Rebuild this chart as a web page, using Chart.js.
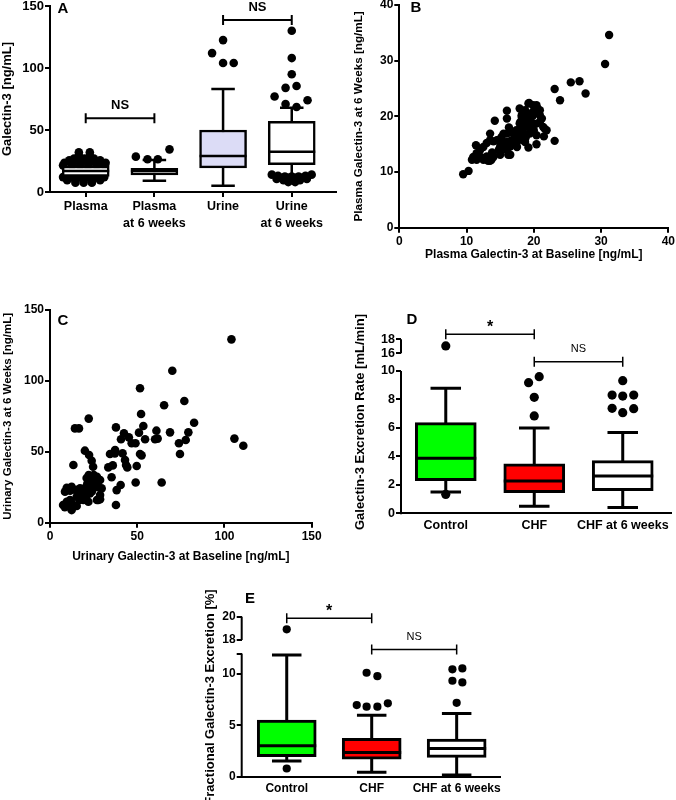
<!DOCTYPE html>
<html>
<head>
<meta charset="utf-8">
<title>Galectin-3</title>
<script src="https://cdn.jsdelivr.net/npm/chart.js@4.4.1/dist/chart.umd.min.js"></script>
<style>
  body { margin: 0; background: #fff; }
  #page { position: relative; width: 676px; height: 800px; overflow: hidden; background: #fff; }
  #page canvas { position: absolute; }
</style>
</head>
<body>
<div id="page">
  <canvas id="chartA" width="340" height="245" style="left:0;top:0"></canvas>
  <canvas id="chartB" width="336" height="300" style="left:340px;top:0"></canvas>
  <canvas id="chartC" width="340" height="265" style="left:0;top:300px"></canvas>
  <canvas id="chartD" width="336" height="245" style="left:340px;top:300px"></canvas>
  <canvas id="chartE" width="360" height="230" style="left:160px;top:570px"></canvas>
</div>
<script>
// ---------- Panel A: box plots ----------
const aGroups = [['Plasma'], ['Plasma', 'at 6 weeks'], ['Urine'], ['Urine', 'at 6 weeks']];
const aQ1 = [12.5, 13.7, 19.4, 22];
const aMedian = [17, 17, 29, 32.5];
const aQ3 = [21, 19, 50, 57];
const aLow = [11, 9, 5, 14];
const aHigh = [23, 25.8, 83, 68];
// outliers: [group, sideways shift, value]
const aOutliers = [
  [1, -0.10, 32], [1, 0.06, 32], [1, -0.10, 29.5], [1, 0.06, 29.5], [1, -0.17, 27], [1, -0.02, 27], [1, 0.12, 27],
  [1, -0.24, 25.5], [1, 0.21, 25.5], [1, -0.08, 25.5], [1, 0.05, 25.5],
  [1, -0.31, 23.5], [1, -0.19, 23.5], [1, -0.07, 23.5], [1, 0.05, 23.5], [1, 0.17, 23.5], [1, 0.29, 23.5],
  [1, -0.33, 21.5], [1, -0.2, 21.5], [1, -0.08, 21.5], [1, 0.04, 21.5], [1, 0.16, 21.5], [1, 0.28, 21.5],
  [1, -0.33, 12], [1, -0.21, 12], [1, -0.09, 12], [1, 0.03, 12], [1, 0.15, 12], [1, 0.27, 12],
  [1, -0.27, 9.5], [1, -0.15, 9.5], [1, -0.03, 9.5], [1, 0.09, 9.5], [1, 0.21, 9.5],
  [1, -0.15, 7.5], [1, -0.03, 7.5], [1, 0.09, 7.5],
  [2, -0.27, 28.5], [2, -0.1, 26.4], [2, 0.05, 26.4], [2, 0.22, 34.4],
  [3, -0.16, 112], [3, 0, 122.5], [3, 0, 104], [3, 0.155, 104],
  [4, 0, 130], [4, 0, 108], [4, 0, 95], [4, -0.09, 84], [4, 0.07, 85.5], [4, -0.25, 77], [4, 0.23, 74],
  [4, -0.09, 71], [4, 0.07, 68.5],
  [4, -0.29, 14], [4, -0.2, 13], [4, -0.1, 12.5], [4, 0, 12.5], [4, 0.1, 12.5], [4, 0.2, 13], [4, 0.29, 14],
  [4, -0.22, 10.5], [4, -0.12, 9.5], [4, -0.04, 9], [4, 0.04, 9], [4, 0.12, 9.5], [4, 0.22, 10.5],
  [4, -0.05, 8], [4, 0.05, 8]
];
const aSignif = [
  { from: 1, to: 2, level: 59.4, text: 'NS' },
  { from: 3, to: 4, level: 138.7, text: 'NS' }
];

// ---------- Panel B: plasma baseline vs 6 weeks ----------
const bPoints = [
  [31.2, 34.6], [30.6, 29.4], [25.5, 26.1], [26.8, 26.3], [27.7, 24.1], [23.1, 24.9], [23.9, 22.9], [23.1, 15.6],
  [9.5, 9.6], [10.3, 10.2],
  [19.3, 22.4], [19.9, 22.0], [20.5, 21.5], [17.9, 21.4], [16.0, 21.0], [14.2, 19.2], [16.0, 19.6],
  [18.2, 19.9], [18.9, 20.5], [19.9, 20.8], [20.9, 20.2], [20.9, 19.0], [21.4, 18.1], [21.9, 17.5],
  [17.9, 18.7], [18.7, 19.0], [19.2, 18.1], [19.9, 18.7], [17.4, 17.5], [18.4, 17.2], [19.4, 16.9], [20.4, 16.6],
  [21.6, 17.8], [21.5, 16.4], [20.4, 15.0], [19.2, 14.4],
  [16.7, 17.2], [16.0, 16.9], [15.2, 16.3], [14.5, 15.7], [13.5, 16.9], [13.5, 15.7], [13.0, 15.2], [12.5, 14.5],
  [12.0, 13.9], [11.5, 13.4], [11.0, 12.7], [10.8, 12.2], [11.5, 12.2], [12.5, 12.2], [13.5, 12.0], [14.0, 12.7],
  [15.0, 13.4], [16.0, 14.0], [16.5, 13.1], [15.2, 14.8], [16.0, 15.4], [16.7, 15.7], [17.2, 16.3], [17.7, 16.0],
  [18.4, 15.7], [11.4, 14.8], [13.2, 12.0], [13.7, 12.2], [12.9, 12.3], [14.7, 15.7], [15.0, 14.6], [15.5, 16.9],
  [16.2, 13.1], [16.5, 14.6], [16.9, 15.7], [17.9, 16.9], [18.3, 18.1], [18.7, 21.1], [18.9, 19.3], [19.2, 20.5],
  [19.2, 22.3], [19.4, 18.1], [19.9, 20.2], [20.4, 22.0], [20.9, 21.1], [20.4, 18.7], [21.2, 19.6], [18.7, 15.4],
  [18.2, 20.2], [17.4, 15.1], [15.0, 13.1], [13.0, 12.8], [14.0, 15.5], [15.5, 15.0], [17.0, 17.0], [18.0, 19.0],
  [19.5, 19.5], [20.0, 17.5], [17.5, 14.5], [14.8, 14.0], [13.8, 13.5], [12.2, 12.6], [18.8, 16.2], [16.3, 18.0]
];

// ---------- Panel C: urinary baseline vs 6 weeks ----------
const cPoints = [
  [104, 129.3], [70.1, 107.2], [51.6, 94.8], [77, 85.8], [65.4, 82.8], [82.6, 70.5], [79.3, 63.7], [68.8, 63.7],
  [77.8, 58.3], [73.9, 56], [74.5, 48.4], [61, 64.9], [61.7, 59.3], [60.2, 58.8], [53.5, 68.2], [52.2, 76.7],
  [51, 63.5], [54.5, 58.8], [51.6, 48.4], [52.5, 47.5], [49.7, 40], [49, 56], [46.8, 56], [45.2, 60.2],
  [41.6, 48.9], [42.4, 63], [43.6, 40.7], [44.3, 39], [40.7, 58.8], [40.5, 26.6], [38.2, 23], [37.8, 12.5],
  [37.8, 67.2], [37.3, 51.3], [36, 40.4], [34.4, 48.4], [33.4, 39], [35.3, 32], [64, 28.4], [49.1, 28.4],
  [105.7, 59.3], [110.8, 54.3], [22.2, 73.4], [14.3, 66.5], [16.6, 66.5], [13.4, 40.7], [20, 50.8], [22.4, 47.7],
  [23.9, 43.7], [24.7, 39.5], [22.2, 33.6], [22.9, 30.1], [25.1, 33.6], [26.9, 32.4], [28.7, 30.1], [29.6, 24.2],
  [21.4, 27.7], [22, 23.5], [22.9, 20.7], [20.6, 18.3], [17.2, 24.2], [14.9, 23], [11.5, 22.6], [8.6, 21.9],
  [9.6, 24.7], [12.4, 25.4], [15.3, 18.3], [16.9, 16], [12.4, 14.1], [9.6, 14.8], [7.5, 12.5], [8.5, 11],
  [12.4, 8.9], [15.3, 11.8], [26.9, 16], [28.7, 16.5], [22, 14.8], [19.1, 16], [23.5, 27], [21, 31.5],
  [24, 22], [20.5, 22], [18, 19], [10.5, 12.5], [13.4, 11.3], [27.7, 16], [28.7, 19.5], [43, 44.2],
  [37.2, 48.9], [25, 26], [26, 29.5], [27.5, 25], [24, 25.5], [20, 24.5], [18.2, 20.7], [11.5, 16]
];

// ---------- Panel D: excretion rate ----------
const dGroups = ['Control', 'CHF', 'CHF at 6 weeks'];
const dQ1 = [2.3, 1.45, 1.59];
const dMedian = [3.86, 2.27, 2.62];
const dQ3 = [6.37, 3.47, 3.7];
const dLow = [1.5, 0.49, 0.4];
const dHigh = [8.78, 6.0, 5.67];
const dOutliers = [
  [1, 0, 1.33],
  [2, 0, 6.84], [2, 0, 8.15], [2, -0.064, 9.18], [2, 0.056, 9.6],
  [3, 0, 9.32], [3, -0.12, 8.31], [3, 0, 8.24], [3, 0.124, 8.31], [3, -0.12, 7.38], [3, 0, 7.07], [3, 0.124, 7.35]
];
const dOutliersHigh = [[1, 0, 17.05]];
const dTicksLow = [0, 2, 4, 6, 8, 10];
const dTicksHigh = [16, 18];
const dSignif = [
  { from: 1, to: 2, level: 18.71, axis: 'yTop', text: '*' },
  { from: 2, to: 3, level: 10.65, axis: 'y', text: 'NS' }
];

// ---------- Panel E: fractional excretion ----------
const eGroups = ['Control', 'CHF', 'CHF at 6 weeks'];
const eQ1 = [1.95, 1.7, 1.89];
const eMedian = [3.02, 2.37, 2.76];
const eQ3 = [5.52, 3.74, 3.67];
const eLow = [1.53, 0.43, 0.16];
const eHigh = [11.85, 6.0, 6.17];
const eOutliers = [
  [1, 0, 0.8],
  [2, -0.176, 6.98], [2, -0.06, 6.82], [2, 0.067, 6.82], [2, 0.19, 7.15], [2, -0.06, 10.13], [2, 0.067, 9.8],
  [3, 0, 7.2], [3, -0.05, 9.35], [3, 0.067, 9.19], [3, -0.05, 10.46], [3, 0.067, 10.55]
];
const eOutliersHigh = [[1, 0, 18.92]];
const eTicksLow = [0, 5, 10, 12];
const eTicksHigh = [18, 20];
const eSignif = [
  { from: 1, to: 2, level: 19.86, axis: 'yTop', text: '*' },
  { from: 2, to: 3, level: 12.4, axis: 'y', text: 'NS' }
];

// ---------- shared setup ----------
const FONT = "'Liberation Sans', Arial, Helvetica, sans-serif";
Chart.defaults.font.family = FONT;
Chart.defaults.font.size = 12;
Chart.defaults.font.weight = 'bold';
Chart.defaults.color = '#000';
Chart.defaults.animation = false;
Chart.defaults.plugins.legend.display = false;
Chart.defaults.plugins.tooltip.enabled = false;

const fitWidth = w => s => { s.width = w; s.paddingTop = 0; s.paddingBottom = 0; };
const fitHeight = h => s => { s.height = h; s.paddingLeft = 0; s.paddingRight = 0; };
const setTicks = list => s => { s.ticks = list.map(v => ({ value: v })); };
const toPoints = list => list.map(([g, dx, v]) => ({ x: g + dx, y: v }));
const toXY = list => list.map(([x, y]) => ({ x: x, y: y }));
const boxes = (q1, q3) => q1.map((q, i) => ({ x: i + 1, y: [q, q3[i]] }));

const tickGrid = { display: true, drawOnChartArea: false, drawTicks: true, tickLength: 5, color: '#000', lineWidth: 2 };
const noTickGrid = { display: false, drawTicks: false, offset: false };
const axisLine = { display: true, color: '#000', width: 2 };

// whiskers, medians, significance bars, broken axis parts, panel letter
function decor(cfg) {
  return {
    id: 'decor',
    beforeDatasetsDraw(chart) {
      if (!cfg.low) return;
      const ctx = chart.ctx;
      const ys = chart.scales.y;
      const bars = chart.getDatasetMeta(0).data;
      ctx.save();
      ctx.strokeStyle = '#000';
      ctx.lineWidth = cfg.lineWidth;
      bars.forEach((bar, i) => {
        const cap = bar.width / 4;
        const yLo = ys.getPixelForValue(cfg.low[i]);
        const yHi = ys.getPixelForValue(cfg.high[i]);
        ctx.beginPath();
        ctx.moveTo(bar.x, yLo); ctx.lineTo(bar.x, yHi);
        ctx.moveTo(bar.x - cap, yLo); ctx.lineTo(bar.x + cap, yLo);
        ctx.moveTo(bar.x - cap, yHi); ctx.lineTo(bar.x + cap, yHi);
        ctx.stroke();
      });
      ctx.restore();
    },
    afterDatasetDraw(chart, args) {
      if (args.index !== 0 || !cfg.median) return;
      const ctx = chart.ctx;
      const ys = chart.scales.y;
      ctx.save();
      ctx.strokeStyle = '#000';
      ctx.lineWidth = cfg.lineWidth;
      chart.getDatasetMeta(0).data.forEach((bar, i) => {
        const ym = ys.getPixelForValue(cfg.median[i]);
        ctx.beginPath();
        ctx.moveTo(bar.x - bar.width / 2, ym);
        ctx.lineTo(bar.x + bar.width / 2, ym);
        ctx.stroke();
      });
      ctx.restore();
    },
    afterDraw(chart) {
      const ctx = chart.ctx;
      const xs = chart.scales.x;
      const area = chart.chartArea;
      ctx.save();
      ctx.strokeStyle = '#000';
      ctx.fillStyle = '#000';
      (cfg.axisParts || []).forEach(p => {
        const sc = chart.scales[p.axis];
        ctx.lineWidth = 2;
        ctx.beginPath();
        ctx.moveTo(area.left, sc.getPixelForValue(p.from) + (p.from === 0 ? 1 : 0));
        ctx.lineTo(area.left, sc.getPixelForValue(p.to));
        ctx.stroke();
      });
      (cfg.signif || []).forEach(b => {
        const sc = chart.scales[b.axis || 'y'];
        const y = sc.getPixelForValue(b.level);
        const x1 = xs.getPixelForValue(b.from);
        const x2 = xs.getPixelForValue(b.to);
        ctx.lineWidth = cfg.bracketWidth;
        ctx.beginPath();
        ctx.moveTo(x1, y); ctx.lineTo(x2, y);
        ctx.moveTo(x1, y - 5); ctx.lineTo(x1, y + 5);
        ctx.moveTo(x2, y - 5); ctx.lineTo(x2, y + 5);
        ctx.stroke();
        const star = b.text === '*';
        ctx.font = star ? 'bold 16px ' + FONT : cfg.signifFont;
        ctx.textAlign = 'center';
        ctx.textBaseline = 'middle';
        ctx.fillText(b.text, (x1 + x2) / 2, y - (star ? 7 : 13));
      });
      if (cfg.yTitle) {
        ctx.save();
        ctx.translate(cfg.yTitle.x, cfg.yTitle.y);
        ctx.rotate(-Math.PI / 2);
        ctx.font = 'bold 13px ' + FONT;
        ctx.textAlign = 'center';
        ctx.textBaseline = 'middle';
        ctx.fillText(cfg.yTitle.text, 0, 0);
        ctx.restore();
      }
      ctx.font = 'bold 15px ' + FONT;
      ctx.textAlign = 'center';
      ctx.textBaseline = 'middle';
      ctx.fillText(cfg.letter, cfg.letterAt[0], cfg.letterAt[1]);
      ctx.restore();
    }
  };
}

// ---------- A ----------
new Chart(document.getElementById('chartA'), {
  type: 'bar',
  data: {
    datasets: [
      {
        type: 'bar',
        data: boxes(aQ1, aQ3),
        backgroundColor: ['#ffffff', '#ffffff', '#dcdcf6', '#ffffff'],
        borderColor: '#000',
        borderWidth: 2.5,
        borderSkipped: false,
        barThickness: 47
      },
      {
        type: 'scatter',
        data: toPoints(aOutliers),
        pointRadius: 4.3,
        backgroundColor: '#000',
        borderWidth: 0,
        clip: false
      }
    ]
  },
  options: {
    responsive: false,
    layout: { padding: { top: 6, right: 3, left: 0, bottom: 0 } },
    scales: {
      x: {
        type: 'linear', min: 0.48, max: 4.64, offset: false,
        border: axisLine, grid: Object.assign({}, tickGrid, { offset: false }),
        afterBuildTicks: setTicks([1, 2, 3, 4]),
        ticks: {
          padding: 1, autoSkip: false, maxRotation: 0, minRotation: 0,
          font: { size: 12.5, weight: 'bold', lineHeight: 1.38 },
          callback: v => aGroups[v - 1]
        },
        afterFit: fitHeight(53)
      },
      y: {
        type: 'linear', min: 0, max: 150,
        border: axisLine, grid: tickGrid,
        ticks: { stepSize: 50, padding: 1, autoSkip: false, font: { size: 13, weight: 'bold' } },
        title: { display: true, text: 'Galectin-3 [ng/mL]', font: { size: 13, weight: 'bold' }, padding: { top: 0, bottom: 0 } },
        afterFit: fitWidth(50)
      }
    }
  },
  plugins: [decor({
    low: aLow, high: aHigh, median: aMedian, lineWidth: 2.5,
    signif: aSignif, bracketWidth: 2, signifFont: 'bold 13px ' + FONT,
    letter: 'A', letterAt: [63, 9]
  })]
});

// ---------- B ----------
new Chart(document.getElementById('chartB'), {
  type: 'scatter',
  data: {
    datasets: [{
      data: toXY(bPoints),
      pointRadius: 4.2,
      backgroundColor: '#000',
      borderWidth: 0,
      clip: false
    }]
  },
  options: {
    responsive: false,
    layout: { padding: { top: 5, right: 7.7, left: 0, bottom: 0 } },
    scales: {
      x: {
        type: 'linear', min: 0, max: 40,
        border: axisLine, grid: tickGrid,
        ticks: { stepSize: 10, padding: 2, autoSkip: false },
        title: { display: true, text: 'Plasma Galectin-3 at Baseline [ng/mL]', font: { size: 12, weight: 'bold' }, padding: { top: 0, bottom: 37.8 } },
        afterFit: fitHeight(72.3)
      },
      y: {
        type: 'linear', min: 0, max: 40,
        border: axisLine, grid: tickGrid,
        ticks: { stepSize: 10, padding: 1, autoSkip: false },
        title: { display: true, text: 'Plasma Galectin-3 at 6 Weeks [ng/mL]', font: { size: 11.7, weight: 'bold' }, padding: { top: 12, bottom: 0 } },
        afterFit: fitWidth(59.3)
      }
    }
  },
  plugins: [decor({ letter: 'B', letterAt: [76, 8] })]
});

// ---------- C ----------
new Chart(document.getElementById('chartC'), {
  type: 'scatter',
  data: {
    datasets: [{
      data: toXY(cPoints),
      pointRadius: 4.3,
      backgroundColor: '#000',
      borderWidth: 0,
      clip: false
    }]
  },
  options: {
    responsive: false,
    layout: { padding: { top: 10, right: 28.3, left: 0, bottom: 0 } },
    scales: {
      x: {
        type: 'linear', min: 0, max: 150,
        border: axisLine, grid: tickGrid,
        ticks: { stepSize: 50, padding: 2, autoSkip: false },
        title: { display: true, text: 'Urinary Galectin-3 at Baseline [ng/mL]', font: { size: 12, weight: 'bold' }, padding: { top: 0, bottom: 1 } },
        afterFit: fitHeight(42.3)
      },
      y: {
        type: 'linear', min: 0, max: 150,
        border: axisLine, grid: tickGrid,
        ticks: { stepSize: 50, padding: 1, autoSkip: false },
        title: { display: true, text: 'Urinary Galectin-3 at 6 Weeks [ng/mL]', font: { size: 11.5, weight: 'bold' }, padding: { top: 1, bottom: 0 } },
        afterFit: fitWidth(50)
      }
    }
  },
  plugins: [decor({ letter: 'C', letterAt: [63, 21] })]
});

// ---------- D / E share the broken-axis box layout ----------
function brokenBoxChart(id, o) {
  return new Chart(document.getElementById(id), {
    type: 'bar',
    data: {
      datasets: [
        {
          type: 'bar',
          yAxisID: 'y',
          data: boxes(o.q1, o.q3),
          backgroundColor: ['#00ff00', '#ff0000', '#ffffff'],
          borderColor: '#000',
          borderWidth: 3,
          borderSkipped: false,
          barThickness: o.boxWidth
        },
        {
          type: 'scatter',
          yAxisID: 'y',
          data: toPoints(o.outliers),
          pointRadius: o.dot,
          backgroundColor: '#000',
          borderWidth: 0,
          clip: false
        },
        {
          type: 'scatter',
          yAxisID: 'yTop',
          data: toPoints(o.outliersHigh),
          pointRadius: o.dot,
          backgroundColor: '#000',
          borderWidth: 0,
          clip: false
        }
      ]
    },
    options: {
      responsive: false,
      layout: { padding: o.padding },
      scales: {
        x: {
          type: 'linear', min: o.xMin, max: o.xMax, offset: false,
          border: axisLine, grid: noTickGrid,
          afterBuildTicks: setTicks([1, 2, 3]),
          ticks: {
            padding: o.labelPad, autoSkip: false, maxRotation: 0, minRotation: 0,
            font: { size: o.tickSize, weight: 'bold' },
            callback: v => o.groups[v - 1]
          },
          afterFit: fitHeight(o.xHeight)
        },
        y: {
          type: 'linear', position: 'left', stack: 'left', stackWeight: o.lowWeight,
          min: 0, max: o.lowMax,
          border: { display: false }, grid: tickGrid,
          afterBuildTicks: setTicks(o.ticksLow),
          ticks: {
            padding: 1, autoSkip: false, font: { size: o.tickSize, weight: 'bold' },
            callback: v => (v > o.lastLabel ? '' : v)
          },
          afterFit: fitWidth(o.yWidth)
        },
        yTop: {
          type: 'linear', position: 'left', stack: 'left', stackWeight: o.highWeight,
          min: o.highMin, max: o.highMax,
          border: { display: false }, grid: tickGrid,
          afterBuildTicks: setTicks(o.ticksHigh),
          ticks: { padding: 1, autoSkip: false, font: { size: o.tickSize, weight: 'bold' } },
          afterFit: fitWidth(o.yWidth)
        }
      }
    },
    plugins: [decor({
      low: o.low, high: o.high, median: o.median, lineWidth: 3,
      signif: o.signif, bracketWidth: 1.5, signifFont: '11px ' + FONT,
      axisParts: [{ axis: 'y', from: 0, to: o.lowTop }, { axis: 'yTop', from: o.ticksHigh[0], to: o.ticksHigh[1] }],
      yTitle: o.yTitle,
      letter: o.letter, letterAt: o.letterAt
    })]
  });
}

brokenBoxChart('chartD', {
  groups: dGroups, q1: dQ1, q3: dQ3, median: dMedian, low: dLow, high: dHigh,
  outliers: dOutliers, outliersHigh: dOutliersHigh, signif: dSignif,
  ticksLow: dTicksLow, ticksHigh: dTicksHigh, lastLabel: 10,
  lowMax: 10, lowTop: 10, highMin: 13.47, highMax: 19.2,
  lowWeight: 142.3, highWeight: 40.1,
  xMin: 0.494, xMax: 3.55, boxWidth: 61, dot: 4.6,
  padding: { top: 30.9, right: 3, left: 0, bottom: 0 },
  yWidth: 61, xHeight: 31.7, labelPad: 5, tickSize: 12.5,
  yTitle: { text: 'Galectin-3 Excretion Rate [mL/min]', x: 20, y: 122 },
  letter: 'D', letterAt: [72, 20]
});

brokenBoxChart('chartE', {
  groups: eGroups, q1: eQ1, q3: eQ3, median: eMedian, low: eLow, high: eHigh,
  outliers: eOutliers, outliersHigh: eOutliersHigh, signif: eSignif,
  ticksLow: eTicksLow, ticksHigh: eTicksHigh, lastLabel: 10,
  lowMax: 12, lowTop: 12, highMin: 16.84, highMax: 20.6,
  lowWeight: 123.2, highWeight: 43.9,
  xMin: 0.47, xMax: 3.51, boxWidth: 59, dot: 4.1,
  padding: { top: 39.7, right: 20, left: 0, bottom: 0 },
  yWidth: 81.7, xHeight: 23.3, labelPad: 5, tickSize: 12,
  yTitle: { text: 'Fractional Galectin-3 Excretion [%]', x: 50, y: 127 },
  letter: 'E', letterAt: [90, 29]
});
</script>
</body>
</html>
